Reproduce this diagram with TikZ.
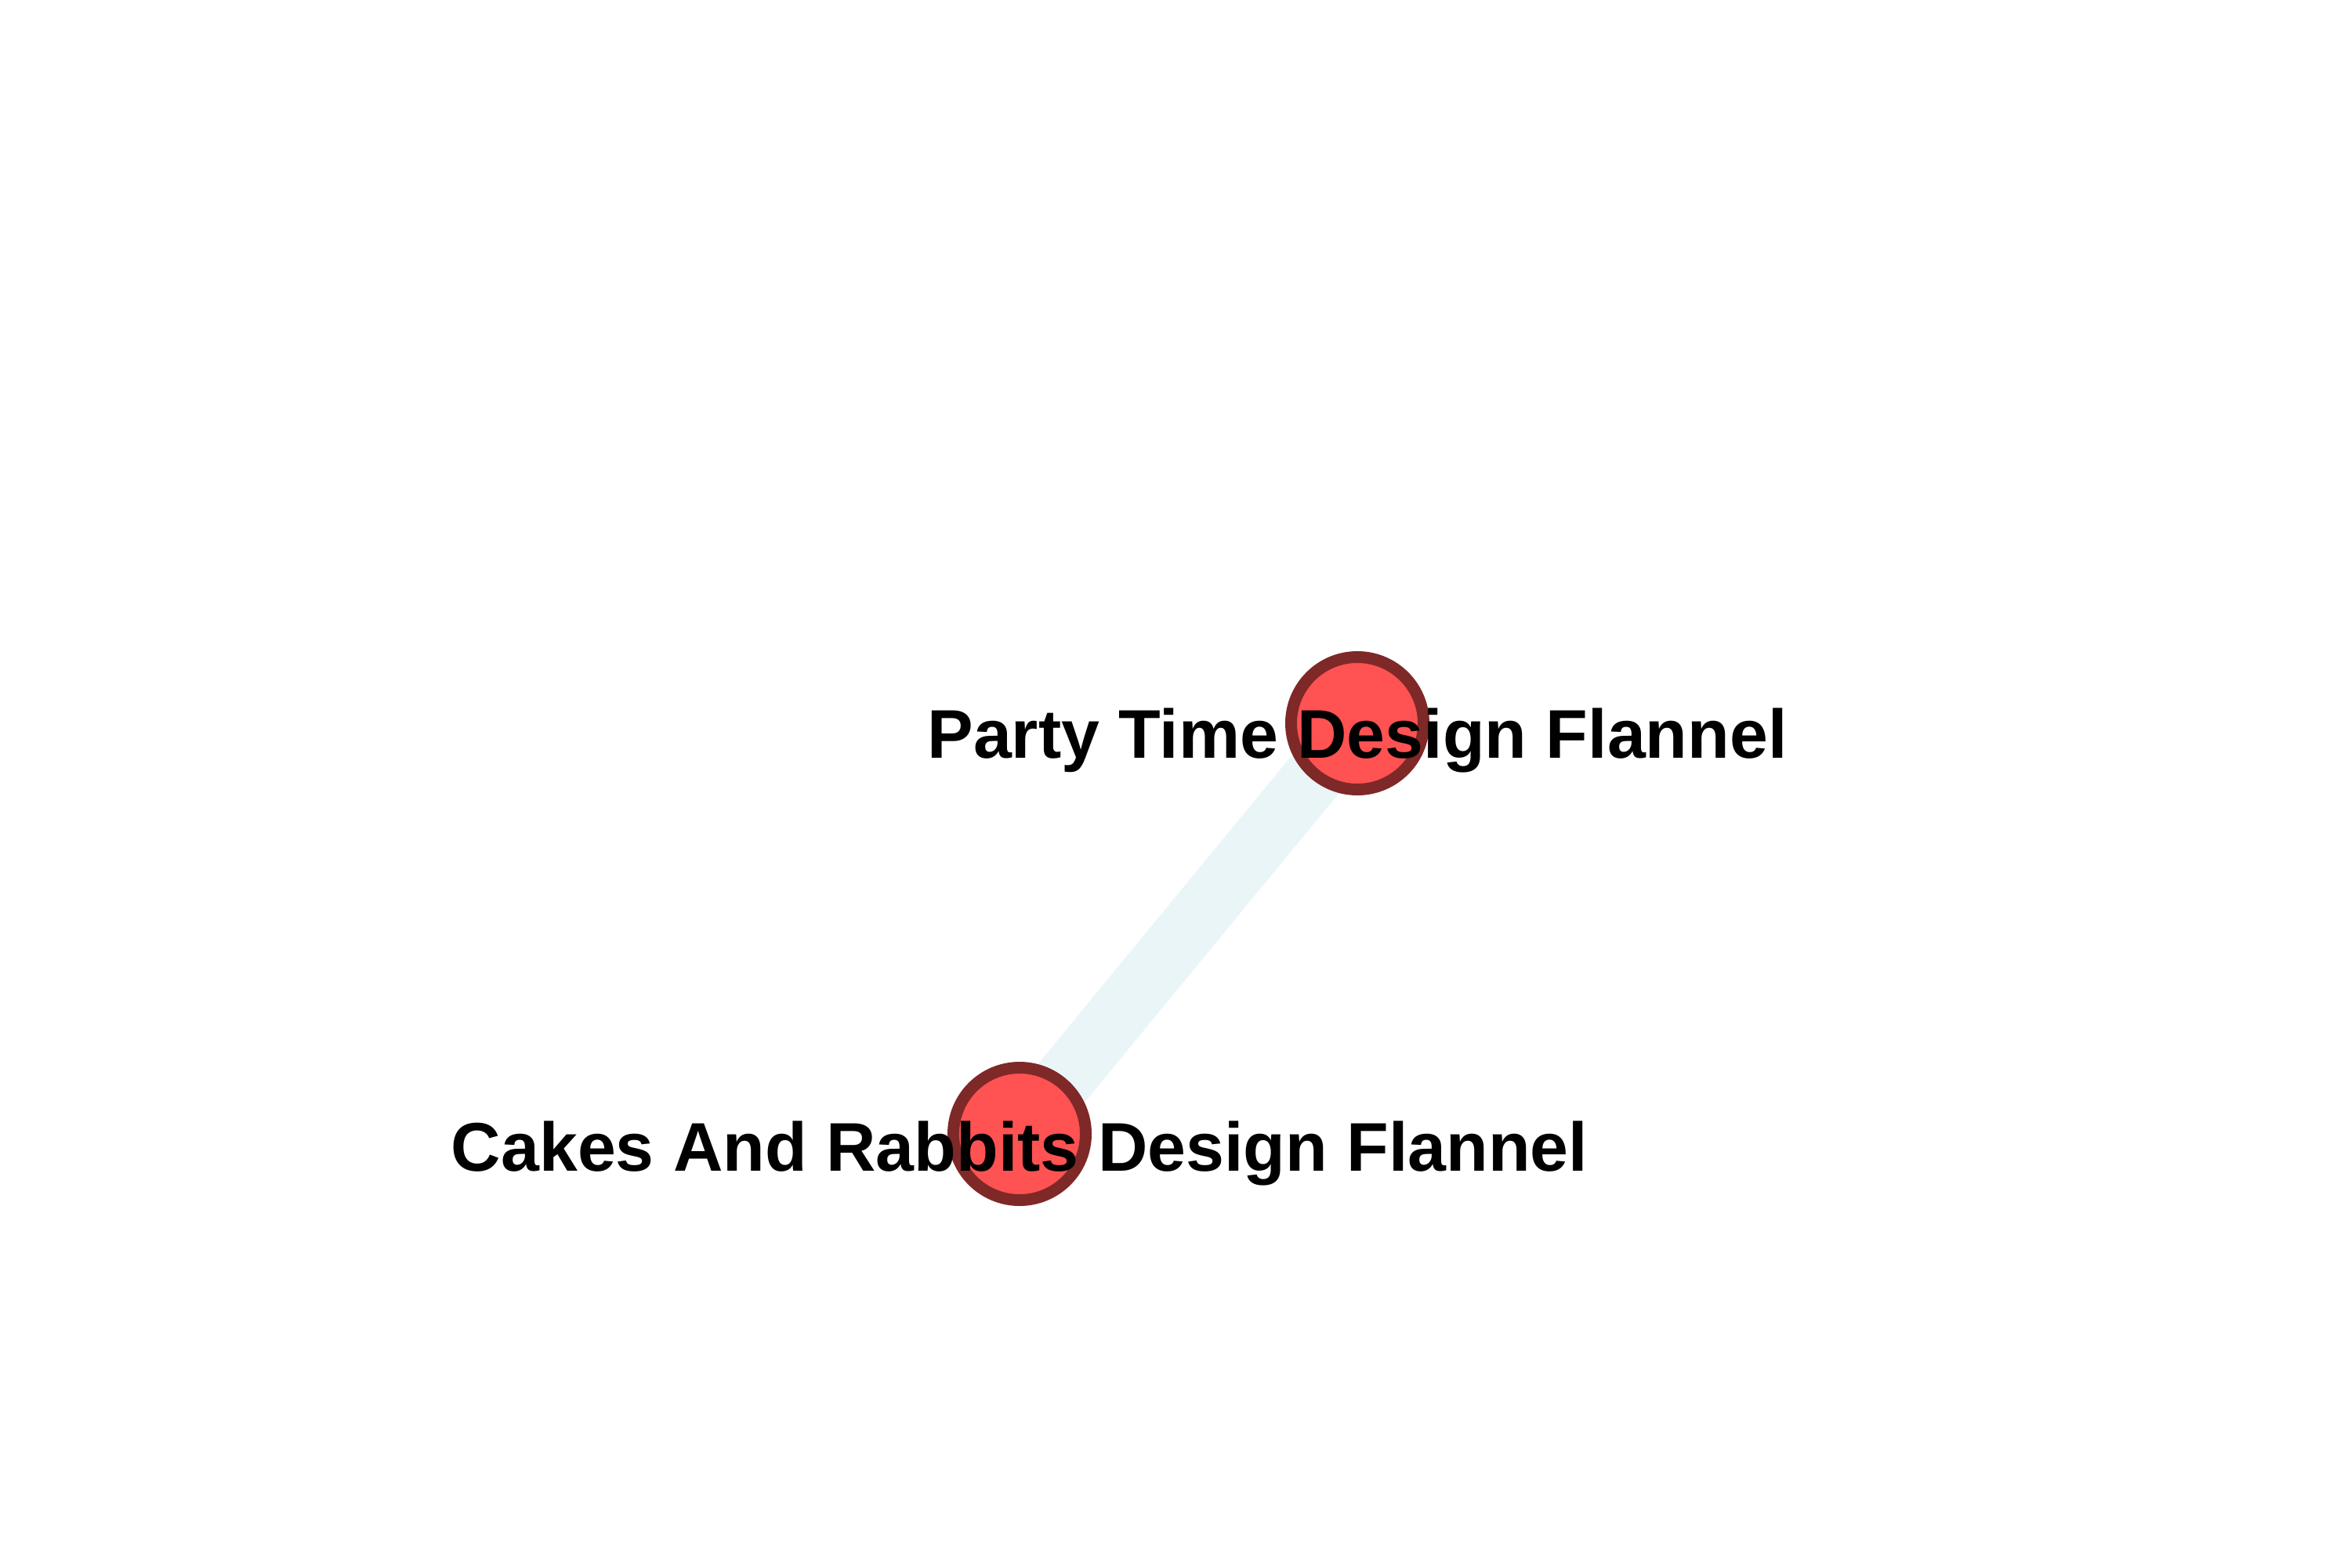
\documentclass[tikz,border=0pt]{standalone}
\usepackage{fontspec}
\setmainfont{Liberation Sans}
\usepackage{tikz}
\usetikzlibrary{backgrounds}
\definecolor{nodefill}{HTML}{FF5252}
\definecolor{nodeline}{HTML}{7F2828}
\definecolor{edgeblue}{HTML}{EAF5F8}
\tikzstyle{product} = [circle, minimum size=1.69cm, inner sep=0pt, draw=nodeline, line width=0.15cm, fill=nodefill]
\tikzstyle{productname} = [anchor=base, inner sep=0pt, font=\fontsize{25}{30}\selectfont\bfseries, text=black]
\tikzstyle{link} = [line width=0.77cm, draw=edgeblue]

\begin{document}
\begin{tikzpicture}

\useasboundingbox (0,0) rectangle (30,-20);

\node (party) [product] at (17.32,-9.23) {};
\node (cakes) [product] at (13.01,-14.47) {};

\node (partylabel) [productname] at ([yshift=-0.44cm]party.center) {Party Time Design Flannel};
\node (cakeslabel) [productname] at ([yshift=-0.47cm]cakes.center) {Cakes And Rabbits Design Flannel};

% white page, then the link under the circles
\begin{scope}[on background layer]
\fill [white] (0,0) rectangle (30,-20);
\draw [link] (cakes.center) -- (party.center);
\end{scope}

\end{tikzpicture}
\end{document}
